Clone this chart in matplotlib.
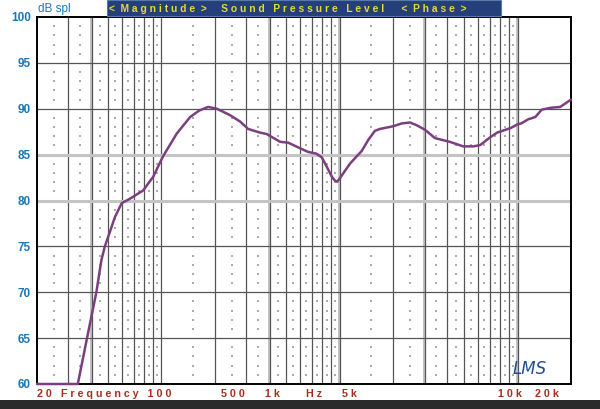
import matplotlib
matplotlib.use("Agg")
import matplotlib.pyplot as plt
from matplotlib.patches import Rectangle
import numpy as np

# response curve (Hz, dB spl)
freq = [20, 33.9, 38.2, 43.1, 46, 48.1, 51.4, 54.8, 59.8, 66.6, 79, 90, 102,
        122, 145, 163, 183, 205, 243, 277, 307, 358, 390, 464, 516, 600, 666,
        744, 796, 848, 906, 945, 972, 1005, 1054, 1150, 1334, 1452, 1584, 1690,
        2010, 2240, 2490, 2720, 3030, 3440, 4160, 4960, 5660, 6190, 7040, 7690,
        9170, 10000, 10500, 11500, 12600, 13700, 15300, 17400, 20000]
spl = [60, 60, 65, 70, 73.5, 75, 76.6, 78.2, 79.7, 80.2, 81.1, 82.6, 84.8,
       87.3, 89.1, 89.8, 90.2, 90.0, 89.3, 88.6, 87.8, 87.4, 87.25, 86.4, 86.3,
       85.7, 85.3, 85.1, 84.7, 83.7, 82.6, 82.15, 82.05, 82.4, 83.0, 84.05,
       85.4, 86.6, 87.6, 87.8, 88.1, 88.4, 88.5, 88.2, 87.7, 86.8, 86.4, 85.9,
       85.9, 86.05, 86.9, 87.4, 87.9, 88.3, 88.4, 88.85, 89.1, 89.9, 90.1,
       90.2, 91.0]

y_ticks = [60, 65, 70, 75, 80, 85, 90, 95, 100]
light_vlines = [40, 400, 1000, 3000, 10000]
light_hlines = [80, 85]

W, H = 600, 409

def fx(px):
    return px / W

def fy(py):
    return 1 - py / H

fig = plt.figure(figsize=(6, 4.09), dpi=100)
fig.patch.set_facecolor("white")
ax = fig.add_axes([fx(37), fy(384), (571 - 37) / W, (384 - 17) / H])

ax.set_xscale("log")
ax.set_xlim(20, 20000)
ax.set_ylim(60, 100)

# vertical grid
vl = []
for dec in [10, 100, 1000]:
    for m in range(1, 10):
        f = m * dec
        if 20 < f < 20000:
            vl.append(f)
vl.append(10000)
for f in vl:
    if f in light_vlines:
        ax.axvline(f, color="#c4c4c4", lw=2.2, zorder=1)
        ax.axvline(f * 1.012, color="#555555", lw=0.9, zorder=1)
    else:
        ax.axvline(f, color="#555555", lw=0.9, zorder=1)

# horizontal grid
for v in y_ticks[1:-1]:
    if v in light_hlines:
        ax.axhline(v, color="#c4c4c4", lw=2.2, zorder=1)
    else:
        ax.axhline(v, color="#555555", lw=0.9, zorder=1)

# dotted minor grid
mids = []
for dec in [10, 100, 1000]:
    for m in range(1, 10):
        f = (m + 0.5) * dec
        if 20 < f < 20000:
            mids.append(f)
rows = [v for v in range(61, 100) if v % 5 != 0]
mx, my = np.meshgrid(mids, rows)
ax.scatter(mx.ravel(), my.ravel(), s=0.7, marker="s", color="#ababab",
           linewidths=0, zorder=1)

ax.plot(freq, spl, color="#7b3f80", lw=1.8, zorder=4, clip_on=False,
        solid_capstyle="round", solid_joinstyle="round")

for s in ax.spines.values():
    s.set_color("black")
    s.set_linewidth(1.4)
ax.set_xticks([])
ax.set_xticks([], minor=True)
ax.set_yticks(y_ticks)
ax.set_yticklabels([str(v) for v in y_ticks], color="#1a78b4",
                   fontweight="bold", fontsize=8.5, family="Liberation Sans")
ax.tick_params(axis="y", length=0, pad=4.5)

# title bar
fig.patches.append(Rectangle((fx(107), fy(16)), (501 - 107) / W, 16 / H,
                             transform=fig.transFigure, facecolor="#243f7a",
                             edgecolor="#5a78a8", lw=0.8, zorder=5))
fig.text(fx(109), fy(8.5),
         "<  M a g n i t u d e  >     S o u n d   P r e s s u r e   L e v e l      <  P h a s e  >",
         color="#e6d835", fontsize=7.4, fontweight="bold",
         family="Liberation Sans", va="center", ha="left", zorder=6)

fig.text(fx(38), fy(9), "dB spl", color="#1a78b4", fontsize=8.5,
         family="Liberation Sans", va="center", ha="left")

# frequency labels
red = "#a3301f"
x_labels = [(37, "2 0   F r e q u e n c y   1 0 0"), (221, "5 0 0"),
            (265, "1 k"), (306, "H z"), (342, "5 k"), (498, "1 0 k"),
            (535, "2 0 k")]
for px, t in x_labels:
    fig.text(fx(px), fy(394), t, color=red, fontsize=7.7, fontweight="bold",
             family="Liberation Sans", va="center", ha="left")

# bottom band
fig.patches.append(Rectangle((0, 0), 1, 9 / H, transform=fig.transFigure,
                             facecolor="#2b2b2b", edgecolor="none"))

fig.text(fx(513), fy(369), "LMS", color="#1f4f90", fontsize=12,
         fontstyle="italic", family="DejaVu Sans", va="center", ha="left")

fig.savefig("out.png", dpi=100)
